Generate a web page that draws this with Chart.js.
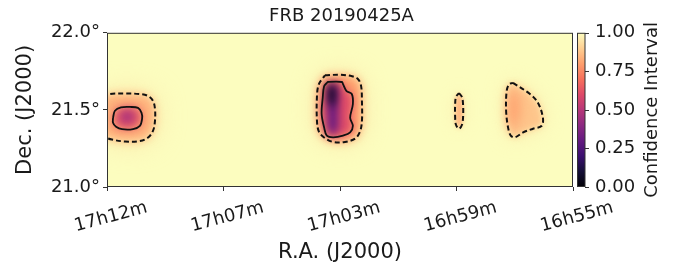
<!DOCTYPE html>
<html>
<head>
<meta charset="utf-8">
<script src="https://cdn.jsdelivr.net/npm/chart.js@4.4.1/dist/chart.umd.min.js"></script>
<style>
  html, body { margin: 0; padding: 0; background: #fff; }
</style>
</head>
<body>
<canvas id="chart" width="683" height="268"></canvas>
<script>
// axis ticks (R.A. in minutes of time, Dec in degrees)
const raTicks = [1032, 1027.75, 1023.5, 1019.25, 1015];
const raLabels = ['17h12m', '17h07m', '17h03m', '16h59m', '16h55m'];
const decTicks = [21.0, 21.5, 22.0];
const decLabels = ['21.0°', '21.5°', '22.0°'];
const cbTicks = [0, 0.25, 0.5, 0.75, 1];
const cbLabels = ['0.00', '0.25', '0.50', '0.75', '1.00'];

// contours, [RA, Dec]
const contourA90 = [[1032.15, 21.583], [1031.89, 21.603], [1031.34, 21.606], [1030.80, 21.603], [1030.50, 21.590], [1030.32, 21.558], [1030.25, 21.506], [1030.25, 21.429], [1030.32, 21.365], [1030.50, 21.321], [1030.80, 21.298], [1031.34, 21.295], [1031.82, 21.308], [1032.15, 21.327]];
const contourA68 = [[1031.78, 21.449], [1031.71, 21.494], [1031.49, 21.516], [1031.16, 21.519], [1030.87, 21.513], [1030.74, 21.481], [1030.72, 21.442], [1030.80, 21.397], [1031.05, 21.376], [1031.45, 21.375], [1031.67, 21.391], [1031.78, 21.417]];
const coreA = [[1031.56, 21.455], [1031.49, 21.494], [1031.27, 21.506], [1031.02, 21.494], [1030.94, 21.455], [1031.02, 21.417], [1031.27, 21.404], [1031.53, 21.417]];

const contourB90 = [[1024.05, 21.724], [1023.50, 21.728], [1023.06, 21.718], [1022.84, 21.699], [1022.73, 21.654], [1022.70, 21.558], [1022.70, 21.429], [1022.77, 21.359], [1022.95, 21.314], [1023.32, 21.292], [1023.75, 21.292], [1024.08, 21.321], [1024.27, 21.359], [1024.34, 21.429], [1024.34, 21.590], [1024.27, 21.667]];
const contourB68 = [[1023.98, 21.675], [1023.94, 21.681], [1023.43, 21.681], [1023.39, 21.667], [1023.26, 21.622], [1023.07, 21.603], [1023.03, 21.538], [1023.13, 21.449], [1023.03, 21.397], [1023.13, 21.354], [1023.39, 21.333], [1023.75, 21.322], [1023.98, 21.333], [1024.08, 21.387], [1024.17, 21.474], [1024.13, 21.579], [1024.08, 21.654]];
const coreB = [[1023.94, 21.660], [1023.83, 21.673], [1023.65, 21.667], [1023.57, 21.622], [1023.57, 21.397], [1023.65, 21.346], [1023.83, 21.340], [1023.94, 21.378], [1023.97, 21.558]];
const peakB = [[1023.90, 21.660], [1023.72, 21.667], [1023.65, 21.609], [1023.72, 21.526], [1023.86, 21.526], [1023.94, 21.590]];

const contourC90 = [[1019.16, 21.609], [1019.05, 21.583], [1019.01, 21.532], [1019.01, 21.455], [1019.05, 21.404], [1019.16, 21.378], [1019.27, 21.404], [1019.30, 21.455], [1019.30, 21.532], [1019.27, 21.583]];

const contourD90 = [[1017.19, 21.675], [1016.57, 21.603], [1016.28, 21.547], [1016.10, 21.451], [1016.14, 21.397], [1016.46, 21.378], [1016.82, 21.354], [1017.12, 21.322], [1017.27, 21.333], [1017.37, 21.387], [1017.44, 21.494], [1017.42, 21.622], [1017.33, 21.667]];
const coreD = [[1017.30, 21.635], [1017.01, 21.609], [1016.93, 21.494], [1017.08, 21.391], [1017.30, 21.378], [1017.37, 21.494]];

// confidence level inside each shape (halo, then inner shapes)
const fillA = [0.94, 0.84, 0.66, 0.48];
const fillB = [0.94, 0.80, 0.60, 0.30, 0.04];
const fillC = [0.96, 0.85];
const fillD = [0.95, 0.88, 0.80];

// magma colormap
const magmaStops = ['#000004', '#140e36', '#3b0f70', '#641a80', '#8c2981', '#b73779', '#de4968', '#f7705c', '#fe9f6d', '#fecf92', '#fcfdbf'];

function hexRgb(h) {
    return [parseInt(h.slice(1, 3), 16), parseInt(h.slice(3, 5), 16), parseInt(h.slice(5, 7), 16)];
}
function magma(v) {
    const t = Math.max(0, Math.min(1, v)) * (magmaStops.length - 1);
    const i = Math.min(Math.floor(t), magmaStops.length - 2);
    const f = t - i;
    const a = hexRgb(magmaStops[i]), b = hexRgb(magmaStops[i + 1]);
    const c = a.map((x, k) => Math.round(x + (b[k] - x) * f));
    return `rgb(${c[0]},${c[1]},${c[2]})`;
}

const heatLayers = [
    [contourA90, fillA[0], 14], [contourA90, fillA[1], 4], [contourA68, fillA[2], 5], [coreA, fillA[3], 5],
    [contourB90, fillB[0], 12], [contourB90, fillB[1], 4], [contourB68, fillB[2], 4], [coreB, fillB[3], 4], [peakB, fillB[4], 4],
    [contourC90, fillC[0], 8], [contourC90, fillC[1], 2],
    [contourD90, fillD[0], 10], [contourD90, fillD[1], 3], [coreD, fillD[2], 6]
];

const font = 'DejaVu Sans';
const ink = '#1a1a1a';

const heatmapPlugin = {
    id: 'heatmap',
    beforeDatasetsDraw(chart) {
        const { ctx, chartArea: a, scales } = chart;
        ctx.save();
        ctx.beginPath();
        ctx.rect(a.left, a.top, a.width, a.height);
        ctx.clip();
        ctx.fillStyle = magma(1);
        ctx.fillRect(a.left, a.top, a.width, a.height);
        heatLayers.forEach(([pts, val, blur]) => {
            ctx.filter = `blur(${blur}px)`;
            ctx.beginPath();
            pts.forEach((p, i) => {
                const x = scales.x.getPixelForValue(p[0]);
                const y = scales.y.getPixelForValue(p[1]);
                if (i === 0) ctx.moveTo(x, y); else ctx.lineTo(x, y);
            });
            ctx.closePath();
            ctx.fillStyle = magma(val);
            ctx.fill();
        });
        ctx.restore();
    },
    afterDraw(chart) {
        const { ctx, chartArea: a, scales } = chart;
        ctx.save();
        // frame
        ctx.strokeStyle = '#333';
        ctx.lineWidth = 1;
        ctx.strokeRect(a.left + 0.5, a.top + 0.5, a.width - 1, a.height - 1);

        // colorbar
        const cb = scales.cb;
        const x0 = a.right + 4.5, x1 = a.right + 12;
        const grad = ctx.createLinearGradient(0, cb.getPixelForValue(0), 0, cb.getPixelForValue(1));
        magmaStops.forEach((c, i) => grad.addColorStop(i / (magmaStops.length - 1), c));
        ctx.fillStyle = grad;
        ctx.fillRect(x0, a.top, x1 - x0, a.height);
        ctx.strokeRect(x0, a.top + 0.5, x1 - x0, a.height - 1);
        cbTicks.forEach(v => {
            const y = Math.round(cb.getPixelForValue(v)) + 0.5;
            ctx.beginPath();
            ctx.moveTo(x1, y);
            ctx.lineTo(x1 + 4, y);
            ctx.stroke();
        });
        ctx.translate(652, (a.top + a.bottom) / 2);
        ctx.rotate(-Math.PI / 2);
        ctx.fillStyle = ink;
        ctx.font = `18px "${font}"`;
        ctx.textAlign = 'center';
        ctx.textBaseline = 'middle';
        ctx.fillText('Confidence Interval', 0, 0);
        ctx.restore();
    }
};

const closed = pts => pts.concat([pts[0]]);
function contour(pts, dashed) {
    return {
        data: pts.map(p => ({ x: p[0], y: p[1] })),
        showLine: true,
        pointRadius: 0,
        borderColor: '#111',
        borderWidth: dashed ? 2 : 1.8,
        borderDash: dashed ? [5, 3] : [],
        tension: 0.35,
        fill: false
    };
}

new Chart(document.getElementById('chart'), {
    type: 'scatter',
    data: {
        datasets: [
            contour(contourA90, true),
            contour(closed(contourA68), false),
            contour(closed(contourB90), true),
            contour(closed(contourB68), false),
            contour(closed(contourC90), true),
            contour(closed(contourD90), true)
        ]
    },
    options: {
        responsive: false,
        animation: false,
        devicePixelRatio: 1,
        events: [],
        layout: { padding: 0 },
        plugins: {
            legend: { display: false },
            tooltip: { enabled: false },
            title: {
                display: true,
                text: 'FRB 20190425A',
                color: ink,
                font: { family: font, size: 18, weight: 'normal' },
                padding: { top: 4, bottom: 5.4 }
            }
        },
        scales: {
            x: {
                type: 'linear',
                position: 'bottom',
                min: 1015,
                max: 1032,
                reverse: true,
                afterBuildTicks: s => { s.ticks = raTicks.map(v => ({ value: v })); },
                afterFit: s => { s.height = 81; },
                ticks: {
                    callback: (v, i) => raLabels[i],
                    autoSkip: false,
                    minRotation: 15,
                    maxRotation: 15,
                    labelOffset: 40,
                    padding: 6,
                    color: ink,
                    font: { family: font, size: 18 }
                },
                grid: { drawOnChartArea: false, drawTicks: true, tickLength: 4, color: '#333' },
                border: { display: false },
                title: {
                    display: true,
                    text: 'R.A. (J2000)',
                    color: ink,
                    font: { family: font, size: 21 },
                    padding: { top: 0, bottom: 3 }
                }
            },
            y: {
                type: 'linear',
                position: 'left',
                min: 21,
                max: 22,
                afterBuildTicks: s => { s.ticks = decTicks.map(v => ({ value: v })); },
                afterFit: s => { s.width = 107; },
                ticks: {
                    callback: (v, i) => decLabels[i],
                    padding: 3,
                    color: ink,
                    font: { family: font, size: 18 }
                },
                grid: { drawOnChartArea: false, drawTicks: true, tickLength: 4, color: '#333' },
                border: { display: false },
                title: {
                    display: true,
                    text: 'Dec. (J2000)',
                    color: ink,
                    font: { family: font, size: 21 },
                    padding: { top: 13, bottom: 0 }
                }
            },
            cb: {
                type: 'linear',
                position: 'right',
                min: 0,
                max: 1,
                afterBuildTicks: s => { s.ticks = cbTicks.map(v => ({ value: v })); },
                afterFit: s => { s.width = 110; },
                ticks: {
                    callback: (v, i) => cbLabels[i],
                    padding: 22,
                    color: ink,
                    font: { family: font, size: 18 }
                },
                grid: { display: false, drawTicks: false },
                border: { display: false }
            }
        }
    },
    plugins: [heatmapPlugin]
});
</script>
</body>
</html>
